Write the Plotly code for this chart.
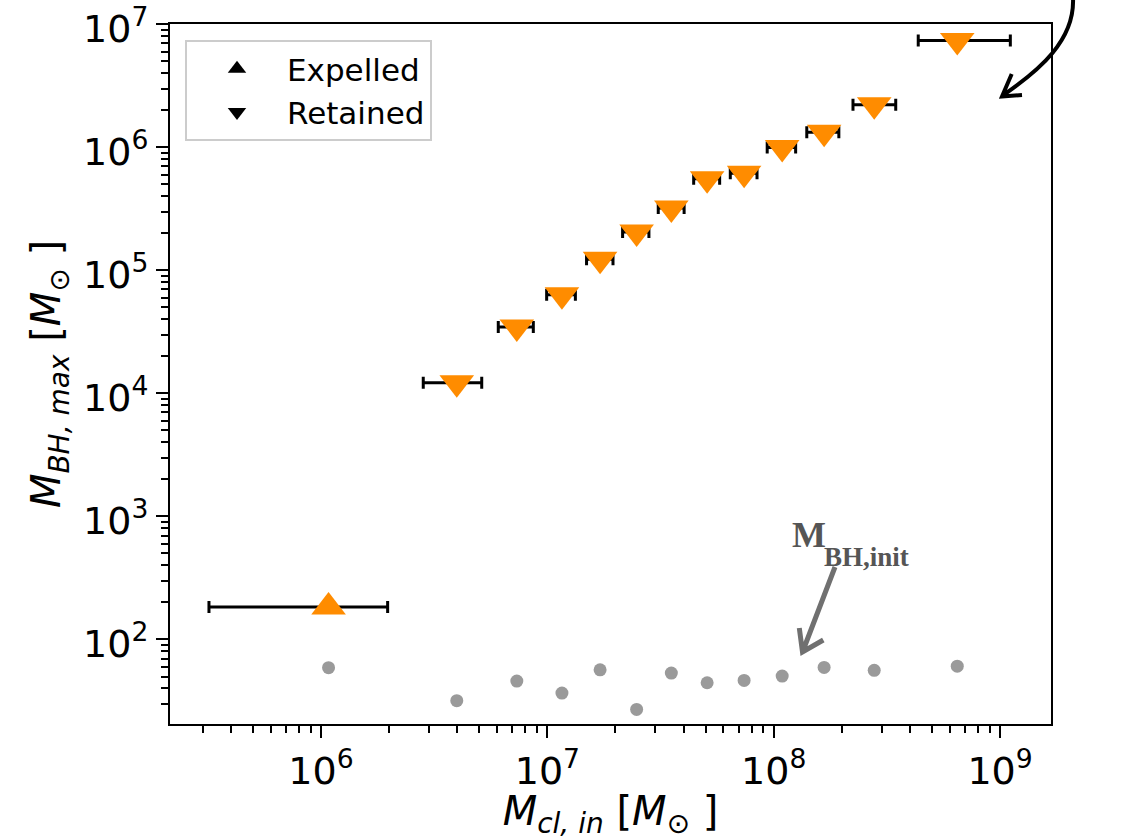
import plotly.graph_objects as go

# ---------------- data ----------------
m_cl_in = [1.08e6, 3.98e6, 7.33e6, 1.16e7, 1.71e7, 2.48e7, 3.53e7, 5.08e7,
           7.40e7, 1.09e8, 1.67e8, 2.78e8, 6.47e8]
m_bh_init = [59, 31.8, 45.9, 36.7, 56.7, 27.0, 53.3, 44.5, 46.5, 50.4, 59.3, 56.1, 60.7]

expelled_x = [1.08e6]
expelled_y = [184]
expelled_xlo = [3.2e5]
expelled_xhi = [1.97e6]

retained_x = [3.98e6, 7.33e6, 1.16e7, 1.71e7, 2.48e7, 3.53e7, 5.08e7, 7.40e7,
              1.09e8, 1.67e8, 2.78e8, 6.47e8]
retained_y = [1.22e4, 3.47e4, 6.35e4, 1.23e5, 2.05e5, 3.22e5, 5.55e5, 6.15e5,
              1.0e6, 1.33e6, 2.22e6, 7.41e6]
retained_xlo = [2.83e6, 6.07e6, 9.93e6, 1.49e7, 2.15e7, 3.09e7, 4.43e7, 6.43e7,
                9.36e7, 1.40e8, 2.24e8, 4.35e8]
retained_xhi = [5.13e6, 8.67e6, 1.33e7, 1.95e7, 2.81e7, 4.02e7, 5.77e7, 8.44e7,
                1.25e8, 1.94e8, 3.46e8, 1.11e9]

x_ticks = [1e6, 1e7, 1e8, 1e9]
x_ticktext = ["10<sup>6</sup>", "10<sup>7</sup>", "10<sup>8</sup>", "10<sup>9</sup>"]
y_ticks = [1e2, 1e3, 1e4, 1e5, 1e6, 1e7]
y_ticktext = ["10<sup>2</sup>", "10<sup>3</sup>", "10<sup>4</sup>",
              "10<sup>5</sup>", "10<sup>6</sup>", "10<sup>7</sup>"]

# ---------------- styles ----------------
ORANGE = "#FF8C00"
GRAY = "#9a9a9a"
FONT = "DejaVu Sans"
W, H = 1132, 840
L, R, T, B = 170, 81, 24, 116
PW, PH = W - L - R, H - T - B


def px(xp, yp):
    return (xp - L) / PW, (H - B - yp) / PH


def errs(x, lo, hi):
    plus = [h - v for v, h in zip(x, hi)]
    minus = [v - l for v, l in zip(x, lo)]
    return plus, minus


fig = go.Figure()

# initial BH masses (grey dots)
fig.add_trace(go.Scatter(x=m_cl_in, y=m_bh_init, mode="markers",
                         marker=dict(color=GRAY, size=13, line=dict(width=0)),
                         showlegend=False, cliponaxis=False))

# error bars (drawn under the markers)
for xs, ys, lo, hi in [(expelled_x, expelled_y, expelled_xlo, expelled_xhi),
                       (retained_x, retained_y, retained_xlo, retained_xhi)]:
    p, m = errs(xs, lo, hi)
    fig.add_trace(go.Scatter(
        x=xs, y=ys, mode="markers",
        marker=dict(color="rgba(0,0,0,0)", size=1),
        error_x=dict(type="data", array=p, arrayminus=m, symmetric=False,
                     color="black", thickness=3, width=6),
        showlegend=False, hoverinfo="skip"))

# orange markers
fig.add_trace(go.Scatter(x=expelled_x, y=expelled_y, mode="markers",
                         marker=dict(symbol="triangle-up", color=ORANGE, size=30,
                                     line=dict(width=0)),
                         showlegend=False))
fig.add_trace(go.Scatter(x=retained_x, y=retained_y, mode="markers",
                         marker=dict(symbol="triangle-down", color=ORANGE, size=30,
                                     line=dict(width=0)),
                         showlegend=False, cliponaxis=False))

# legend entries (black symbols)
fig.add_trace(go.Scatter(x=[None], y=[None], mode="markers", name="Expelled",
                         marker=dict(symbol="triangle-up", color="black", size=20)))
fig.add_trace(go.Scatter(x=[None], y=[None], mode="markers", name="Retained",
                         marker=dict(symbol="triangle-down", color="black", size=20)))

minor_x = [m * 10 ** e for e in range(5, 10) for m in range(2, 10)]
minor_y = [m * 10 ** e for e in range(1, 7) for m in range(2, 10)]

axis_common = dict(type="log", showgrid=False, zeroline=False, showline=True,
                   linecolor="black", linewidth=2, mirror=True,
                   ticks="outside", ticklen=12, tickwidth=2, tickcolor="black",
                   tickfont=dict(family=FONT, size=38, color="black"),
                   tickmode="array", ticklabeloverflow="allow", automargin=False)

fig.update_xaxes(**axis_common, range=[5.333, 9.225], tickvals=x_ticks,
                 ticktext=x_ticktext,
                 minor=dict(ticks="outside", ticklen=7, tickwidth=1.5,
                            tickcolor="black", tickmode="array", tickvals=minor_x),
                 title=dict(text="<i>M</i><sub><i>cl, in</i></sub> [<i>M</i><sub>\u2299</sub> ]",
                            font=dict(family=FONT, size=40, color="black"),
                            standoff=10))
fig.update_yaxes(**axis_common, range=[1.313, 7.003], tickvals=y_ticks,
                 ticktext=y_ticktext, ticklabelshift=4,
                 minor=dict(ticks="outside", ticklen=7, tickwidth=1.5,
                            tickcolor="black", tickmode="array", tickvals=minor_y),
                 title=dict(text="<i>M</i><sub><i>BH, max</i></sub> [<i>M</i><sub>\u2299</sub> ]",
                            font=dict(family=FONT, size=40, color="black"),
                            standoff=10))

# annotation arrows (decoration, in paper coordinates)
def path_from(points_groups):
    s = ""
    for grp in points_groups:
        for i, (a, b) in enumerate(grp):
            xp, yp = px(a, b)
            s += ("M" if i == 0 else "L") + f"{xp:.5f},{yp:.5f} "
    return s.strip()


# grey arrow pointing at initial BH masses
grey_path = path_from([[(835, 567), (802.5, 652)],
                       [(799.3, 628), (802.5, 652), (823.3, 640)]])
# black curved arrow coming from outside the frame
p0, c1, c2, p3 = px(1073, -2), px(1075, 40), px(1040, 70), px(1002, 96)
a1, tip, a2 = px(1011.7, 74), px(1002, 96.5), px(1022, 95)
curve_path = (f"M{p0[0]:.5f},{p0[1]:.5f} C{c1[0]:.5f},{c1[1]:.5f} "
              f"{c2[0]:.5f},{c2[1]:.5f} {p3[0]:.5f},{p3[1]:.5f} "
              f"M{a1[0]:.5f},{a1[1]:.5f} L{tip[0]:.5f},{tip[1]:.5f} L{a2[0]:.5f},{a2[1]:.5f}")

fig.update_layout(shapes=[
    dict(type="path", xref="paper", yref="paper", path=grey_path,
         line=dict(color="#707070", width=5)),
    dict(type="path", xref="paper", yref="paper", path=curve_path,
         line=dict(color="black", width=4)),
])

mx, my = px(790, 535)
sx, sy = px(822, 557)
fig.add_annotation(xref="paper", yref="paper", x=mx, y=my, xanchor="left",
                   yanchor="middle", showarrow=False, text="<b>M</b>",
                   font=dict(family="Liberation Serif", size=36, color="#555555"))
fig.add_annotation(xref="paper", yref="paper", x=sx, y=sy, xanchor="left",
                   yanchor="middle", showarrow=False, text="<b>BH,init</b>",
                   font=dict(family="Liberation Serif", size=27, color="#555555"))

lx, ly = px(185, 40)
fig.update_layout(
    width=W, height=H,
    margin=dict(l=L, r=R, t=T, b=B, pad=0, autoexpand=False),
    paper_bgcolor="white", plot_bgcolor="white",
    font=dict(family=FONT, color="black"),
    legend=dict(x=lx, y=ly, xanchor="left", yanchor="top",
                bgcolor="white", bordercolor="#cccccc", borderwidth=2,
                font=dict(family=FONT, size=31, color="black"),
                itemwidth=90, traceorder="normal"),
)

fig.write_html("out.html")
